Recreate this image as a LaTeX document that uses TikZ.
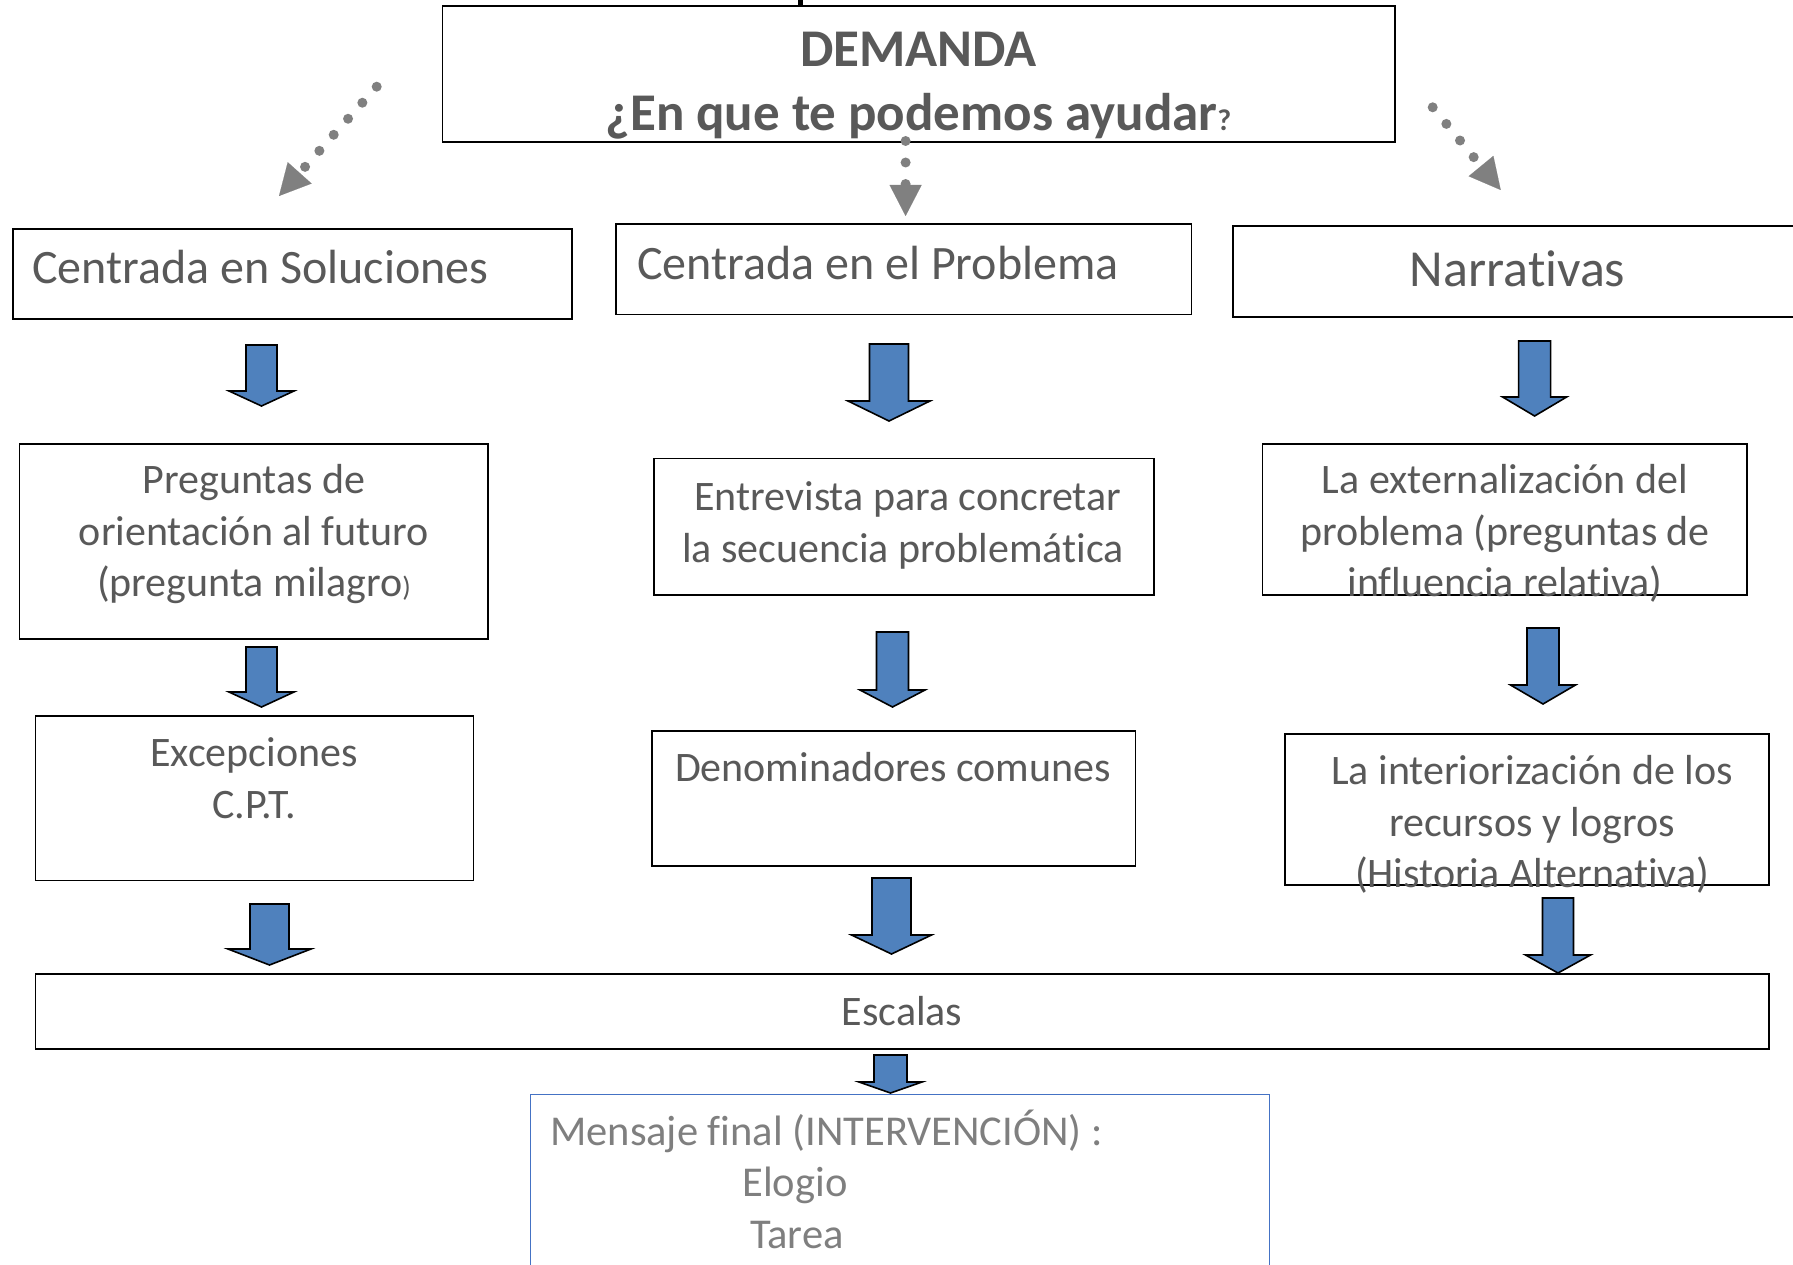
\documentclass[tikz,border=0pt]{standalone}
\usepackage{fontspec}
\setmainfont{Carlito}[Ligatures={NoCommon}]
\usetikzlibrary{arrows.meta}
\definecolor{txtgray}{HTML}{595959}
\definecolor{msggray}{HTML}{7F7F7F}
\definecolor{arrblue}{HTML}{4F81BD}
\definecolor{dotgray}{HTML}{808080}
\definecolor{msgblue}{HTML}{4472C4}
\newcommand{\blockarrow}[6]{%
  \draw[blockarr] ({#1-#5},#2) -- ({#1+#5},#2) -- ({#1+#5},#3) -- ({#1+#6},#3) -- (#1,#4) -- ({#1-#6},#3) -- ({#1-#5},#3) -- cycle;}
\begin{document}
\begin{tikzpicture}[x=1pt,y=-1pt,
  box/.style={draw=black, line width=1.8pt, rectangle, inner sep=0pt},
  txt/.style={text=txtgray, inner sep=0pt, align=center, font=\fontsize{42}{51.5}\selectfont},
  bigtxt/.style={text=txtgray, inner sep=0pt, font=\fontsize{48}{58}\selectfont},
  msgtxt/.style={text=msggray, inner sep=0pt, font=\fontsize{42.5}{51.5}\selectfont},
  blockarr/.style={fill=arrblue, draw=black, line width=1.6pt, line join=miter},
  dotarr/.style={dotgray, line width=10pt, line cap=round, dash pattern=on 0pt off 21.5pt,
    -{Triangle[length=31pt 0 0, width=32pt 0 0, line width=0.1pt 0 0]}}]
\useasboundingbox (0,0) rectangle (1793,1265);
\clip (0,0) rectangle (1793,1265);
\fill[white] (0,0) rectangle (1793,1265);
\fill[black] (798,0) rectangle (803,6);

% boxes
\node[box, minimum width=952.5pt, minimum height=136.1pt] (dem) at (918.75,73.75) {};
\node[box, minimum width=559.2pt, minimum height=90.3pt] (sol) at (292.2,273.85) {};
\node[box, minimum width=575.5pt, minimum height=90.5pt] (prob) at (903.75,269.25) {};
\node[box, minimum width=577.3pt, minimum height=90.8pt] (narr) at (1521.35,271.4) {};
\node[box, minimum width=468.9pt, minimum height=195.5pt] (preg) at (253.85,541.45) {};
\node[box, minimum width=499.8pt, minimum height=136.1pt] (entr) at (903.9,526.55) {};
\node[box, minimum width=484.9pt, minimum height=150.9pt] (ext) at (1504.85,519.15) {};
\node[box, minimum width=438pt, minimum height=164.7pt] (exc) at (254.4,798.15) {};
\node[box, minimum width=483.7pt, minimum height=134.9pt] (den) at (893.65,798.15) {};
\node[box, minimum width=483.7pt, minimum height=151pt] (int) at (1527.15,809.5) {};
\node[box, minimum width=1733.6pt, minimum height=74.3pt] (esc) at (902.2,1011.45) {};
\node[box, draw=msgblue, line width=1.5pt, minimum width=738.7pt, minimum height=205.6pt] (msg) at (899.95,1197.2) {};

% texts
\node[text=txtgray, inner sep=0pt, align=center, font=\bfseries\fontsize{53}{64}\selectfont] (demt) at (918.5,86)
  {\strut DEMANDA\\\strut ¿En que te podemos ayudar{\fontsize{30}{30}\selectfont ?}};
\node[bigtxt, anchor=west] (solt) at (32,272) {\strut Centrada en Soluciones};
\node[bigtxt, anchor=west] (probt) at (637,268) {\strut Centrada en el Problema};
\node[text=txtgray, inner sep=0pt, font=\fontsize{52}{63}\selectfont] (narrt) at (1517.5,274) {\strut Narrativas};
\node[txt] (pregt) at (254,535) {\strut Preguntas de\\\strut orientación al futuro\\\strut (pregunta milagro{\fontsize{28}{28}\selectfont )}};
\node[txt] (entrt) at (903,526) {\strut\ Entrevista para concretar\\\strut la secuencia problemática};
\node[txt] (extt) at (1505,535) {\strut La externalización del\\\strut problema (preguntas de\\\strut influencia relativa)};
\node[txt] (exct) at (254,782) {\strut Excepciones\\\strut C.P.T.};
\node[txt] (dent) at (893,771) {\strut Denominadores comunes};
\node[txt] (intt) at (1532,826) {\strut La interiorización de los\\\strut recursos y logros\\\strut (Historia Alternativa)};
\node[txt] (esct) at (902,1015) {\strut Escalas};
\node[msgtxt, anchor=west] (msg1) at (550,1135) {\strut Mensaje final (INTERVENCIÓN) :};
\node[msgtxt] (msg2) at (795,1186) {\strut Elogio};
\node[msgtxt] (msg3) at (797,1238) {\strut Tarea};

% dotted connectors
\coordinate (dlS) at (376.7,86.7);
\coordinate (dlE) at (279,196);
\coordinate (dmS) at (905.6,141);
\coordinate (dmE) at (905.6,216);
\coordinate (drS) at (1432.7,107.3);
\coordinate (drE) at (1500.7,190);
\draw[dotarr] (dlS) -- (dlE);
\draw[dotarr] (dmS) -- (dmE);
\draw[dotarr] (drS) -- (drE);

% block arrows: cx, top, base, tip, shaft half, head half
\blockarrow{261.5}{345}{391}{406}{15.5}{32.5}
\blockarrow{261.5}{647}{692}{707}{15.5}{32.5}
\blockarrow{269.5}{904}{949}{965}{19.5}{41.5}
\blockarrow{889}{344}{401}{421}{19.5}{41}
\blockarrow{892.5}{632}{690}{707}{16}{32.5}
\blockarrow{891.5}{878}{935}{954}{19.5}{40}
\blockarrow{1534.6}{341}{397}{416}{16}{32}
\blockarrow{1543}{628}{685}{704}{16}{32.5}
\blockarrow{1558}{898}{955}{973}{15.5}{32.5}
\blockarrow{890.5}{1055}{1082}{1093}{16.5}{31.5}
\end{tikzpicture}
\end{document}
